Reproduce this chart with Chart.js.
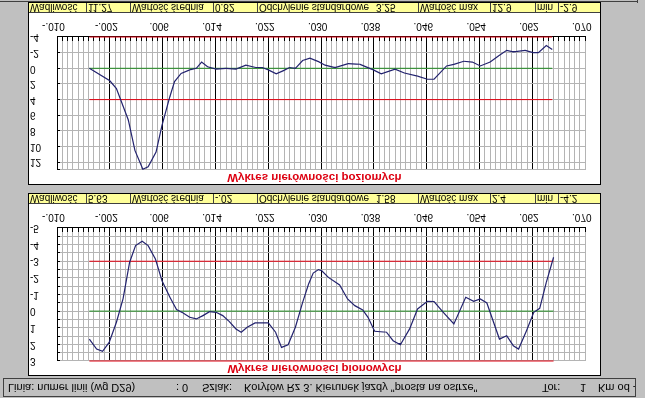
<!DOCTYPE html>
<html><head><meta charset="utf-8">
<script src="https://cdn.jsdelivr.net/npm/chart.js@4.4.1/dist/chart.umd.min.js"></script>
<style>
html,body{margin:0;padding:0;background:#c0c0c0;}
#root{position:relative;width:645px;height:398px;overflow:hidden;transform:scaleY(-1);transform-origin:50% 50%;font-family:"Liberation Sans",Arial,sans-serif;color:#000;}
.panel{position:absolute;left:28px;width:571px;height:181px;background:#fff;border:1px solid #000;}
.panel canvas{position:absolute;left:0;top:0;}
.title{position:absolute;left:0;top:0;width:571px;text-align:center;font-weight:bold;font-size:11.5px;line-height:13px;color:#dd0011;white-space:nowrap;}
.bar{position:absolute;left:0;top:171px;width:571px;height:10px;box-sizing:border-box;border-top:1px solid #404040;background:#ffff99;overflow:hidden;font-size:10px;line-height:9px;}
.bar span{position:absolute;top:0;white-space:nowrap;}
.bar i{position:absolute;top:0;bottom:0;width:1px;background:#404040;}
.status{position:absolute;left:3px;top:1px;width:633px;height:19px;box-sizing:border-box;border:1px solid #404040;font-size:11px;line-height:17px;overflow:hidden;}
.status span{position:absolute;top:0;white-space:nowrap;}
.hl{position:absolute;background:#404040;}
</style>
</head><body>
<div id="root">
  <div class="status">
    <span style="left:4px">Linia: numer linii (wg D29)</span>
    <span style="left:172px">: 0</span>
    <span style="left:198px">Szlak:</span>
    <span style="left:240px">Korytów Rz 3. Kierunek jazdy "prosta na ostrze"</span>
    <span style="left:538px">Tor:</span>
    <span style="left:576px">1</span>
    <span style="left:594px">Km od -</span>
  </div>

  <div class="panel" style="top:22px">
    <canvas id="c2" width="571" height="171"></canvas>
    <div class="title">Wykres nierówności pionowych</div>
    <div class="bar">
      <span style="left:1px">Wadliwość</span><i style="left:57px"></i>
      <span style="left:59px" id="b1"></span><i style="left:101px"></i>
      <span style="left:103px">Wartość średnia</span><i style="left:184px"></i>
      <span style="left:186px" id="b2"></span><i style="left:228px"></i>
      <span style="left:230px">Odchylenie standardowe</span>
      <span style="left:347px" id="b3"></span><i style="left:389px"></i>
      <span style="left:391px">Wartość max</span><i style="left:461px"></i>
      <span style="left:463px" id="b4"></span><i style="left:506px"></i>
      <span style="left:508px">min</span><i style="left:529px"></i>
      <span style="left:531px" id="b5"></span>
    </div>
  </div>

  <div class="panel" style="top:213px">
    <canvas id="c1" width="571" height="171"></canvas>
    <div class="title">Wykres nierówności poziomych</div>
    <div class="bar">
      <span style="left:1px">Wadliwość</span><i style="left:57px"></i>
      <span style="left:59px" id="a1"></span><i style="left:101px"></i>
      <span style="left:103px">Wartość średnia</span><i style="left:184px"></i>
      <span style="left:186px" id="a2"></span><i style="left:228px"></i>
      <span style="left:230px">Odchylenie standardowe</span>
      <span style="left:347px" id="a3"></span><i style="left:389px"></i>
      <span style="left:391px">Wartość max</span><i style="left:461px"></i>
      <span style="left:463px" id="a4"></span><i style="left:506px"></i>
      <span style="left:508px">min</span><i style="left:529px"></i>
      <span style="left:531px" id="a5"></span>
    </div>
  </div>

  <div class="hl" style="left:0;top:396px;width:638px;height:1px"></div>
  <div class="hl" style="left:637px;top:395px;width:1px;height:3px"></div>
</div>
<script>
// x axis (km)
const xTickLabels = ['-.010','-.002','.006','.014','.022','.030','.038','.046','.054','.062','.070'];

// Horizontal irregularities (poziomych)
const topKm = [-0.0051,-0.0020,-0.0010,0.0008,0.0018,0.0030,0.0038,0.0050,0.0059,0.0071,0.0078,0.0088,0.0101,0.0111,0.0119,0.0128,0.0141,0.0156,0.0171,0.0186,0.0201,0.0211,0.0220,0.0232,0.0243,0.0252,0.0261,0.0272,0.0283,0.0296,0.0306,0.0321,0.0341,0.0359,0.0379,0.0391,0.0412,0.0426,0.0446,0.0461,0.0471,0.0490,0.0501,0.0516,0.0529,0.0541,0.0556,0.0569,0.0581,0.0591,0.0609,0.0621,0.0629,0.0641,0.0650];
const topVal = [0,1.6,2.6,6.6,10.5,12.9,12.6,10.7,7.3,3.6,1.7,0.65,0.2,0.0,-0.8,-0.2,0.1,0,0.1,-0.4,-0.1,-0.1,0.2,0.7,0.3,-0.1,0,-1.0,-1.3,-0.85,-0.4,-0.1,-0.6,-0.5,0.2,0.7,0.1,0.6,1.0,1.4,1.4,-0.3,-0.5,-0.9,-0.8,-0.3,-0.8,-1.6,-2.3,-2.1,-2.3,-2.0,-2.0,-2.9,-2.4];
const topLimits = [-4, 4];
const topYLabels = [-4,-2,0,2,4,6,8,10,12];
const topStats = ['11.27','0.82','3.25','12.9','-2.9'];

// Vertical irregularities (pionowych)
const botKm = [-0.0051,-0.0040,-0.0031,-0.0021,-0.0010,0.0000,0.0010,0.0019,0.0029,0.0038,0.0049,0.0059,0.0071,0.0081,0.0091,0.0101,0.0111,0.0121,0.0131,0.0141,0.0151,0.0161,0.0171,0.0179,0.0188,0.0200,0.0220,0.0231,0.0240,0.0250,0.0261,0.0272,0.0281,0.0288,0.0296,0.0301,0.0311,0.0328,0.0340,0.0351,0.0363,0.0371,0.0381,0.0399,0.0409,0.0420,0.0434,0.0446,0.0461,0.0471,0.0485,0.0501,0.0519,0.0531,0.0541,0.0551,0.0570,0.0581,0.0591,0.0599,0.0611,0.0622,0.0631,0.0641,0.0652];
const botVal = [1.68,2.28,2.42,1.88,0.67,-0.74,-2.94,-3.94,-4.2,-3.94,-3.14,-1.83,-0.83,-0.10,0.11,0.37,0.47,0.27,0.03,0.07,0.27,0.63,1.07,1.27,0.97,0.71,0.71,1.27,2.18,2.02,0.97,-0.53,-1.63,-2.29,-2.5,-2.43,-2.03,-1.57,-0.73,-0.33,-0.07,0.37,1.21,1.27,1.78,2.02,1.07,-0.13,-0.59,-0.57,0.07,0.77,-0.83,-0.59,-0.73,-0.49,1.68,1.48,2.08,2.28,1.18,0.07,-0.17,-1.73,-3.24];
const botLimits = [-3, 3];
const botYLabels = [-5,-4,-3,-2,-1,0,1,2,3];
const botStats = ['5.63','-.02','1.58','2.4','-4.2'];

topStats.forEach((s,i)=>document.getElementById('a'+(i+1)).textContent=s);
botStats.forEach((s,i)=>document.getElementById('b'+(i+1)).textContent=s);

Chart.defaults.font.family = '"Liberation Sans", Arial, sans-serif';
Chart.defaults.color = '#000';

const innerTicks = {
  id: 'innerTicks',
  beforeDatasetsDraw(chart) {
    const {ctx, chartArea: a, scales: {x, y}} = chart;
    ctx.save();
    ctx.strokeStyle = '#000'; ctx.lineWidth = 1;
    ctx.beginPath();
    x.ticks.forEach(t => { const p = Math.round(x.getPixelForValue(t.value) - 0.5) + 0.5; ctx.moveTo(p, a.bottom); ctx.lineTo(p, a.bottom - 4); });
    y.ticks.forEach(t => { const p = Math.round(y.getPixelForValue(t.value) - 0.5) + 0.5; ctx.moveTo(a.left, p); ctx.lineTo(a.left + 3, p); });
    ctx.stroke();
    ctx.restore();
  }
};

function makeChart(id, km, vals, limits, yMin, yMax, yStep, yLabels) {
  const x0 = km[0], x1 = km[km.length - 1];
  const limitSet = (v, color) => ({
    data: [{x: x0, y: v}, {x: x1, y: v}], borderColor: color, borderWidth: 1,
    pointRadius: 0, clip: false, order: 2
  });
  new Chart(document.getElementById(id), {
    type: 'line',
    data: {
      datasets: [
        {data: km.map((x, i) => ({x, y: vals[i]})), borderColor: '#22226e', borderWidth: 1.2,
         pointRadius: 0, tension: 0, order: 1, clip: false},
        limitSet(limits[0], '#e00010'),
        limitSet(limits[1], '#e00010'),
        limitSet(0, '#1f8a1f')
      ]
    },
    options: {
      responsive: false, animation: false, events: [],
      layout: {padding: {left: 1, right: 11, top: 14, bottom: 0}},
      plugins: {legend: {display: false}, tooltip: {enabled: false}, title: {display: false}},
      scales: {
        x: {
          type: 'linear', min: -0.010, max: 0.070,
          ticks: {stepSize: 0.0008, autoSkip: false, maxRotation: 0, minRotation: 0, padding: 5,
                  labelOffset: -3.5, font: {size: 10},
                  callback: (v, i) => (i % 10 === 0 ? xTickLabels[i / 10] : '')},
          grid: {drawTicks: false, lineWidth: 1,
                 color: c => (c.index % 10 === 0 && c.index !== 100 ? '#000000' : '#b4b4b4')},
          border: {display: true, color: '#000', width: 1},
          afterFit: s => { s.height = 24; }
        },
        y: {
          type: 'linear', min: yMin, max: yMax,
          ticks: {autoSkip: false, crossAlign: 'far', font: {size: 10},
                  callback: v => (yLabels.includes(v) ? String(v) : '')},
          afterBuildTicks: s => {
            const t = [];
            for (let k = 0; yMin + k * yStep <= yMax + 1e-9; k++) t.push({value: yMin + k * yStep});
            if (Math.abs(t[t.length - 1].value - yMax) > 1e-9) t.push({value: yMax});
            s.ticks = t;
          },
          grid: {drawTicks: false, lineWidth: 1, color: '#b4b4b4'},
          border: {display: true, color: '#000', width: 1},
          afterFit: s => { s.width = 27; }
        }
      }
    },
    plugins: [innerTicks]
  });
}

makeChart('c1', topKm, topVal, topLimits, -4, 13, 2, topYLabels);
makeChart('c2', botKm, botVal, botLimits, -5, 3, 0.5, botYLabels);
</script>
</body></html>
